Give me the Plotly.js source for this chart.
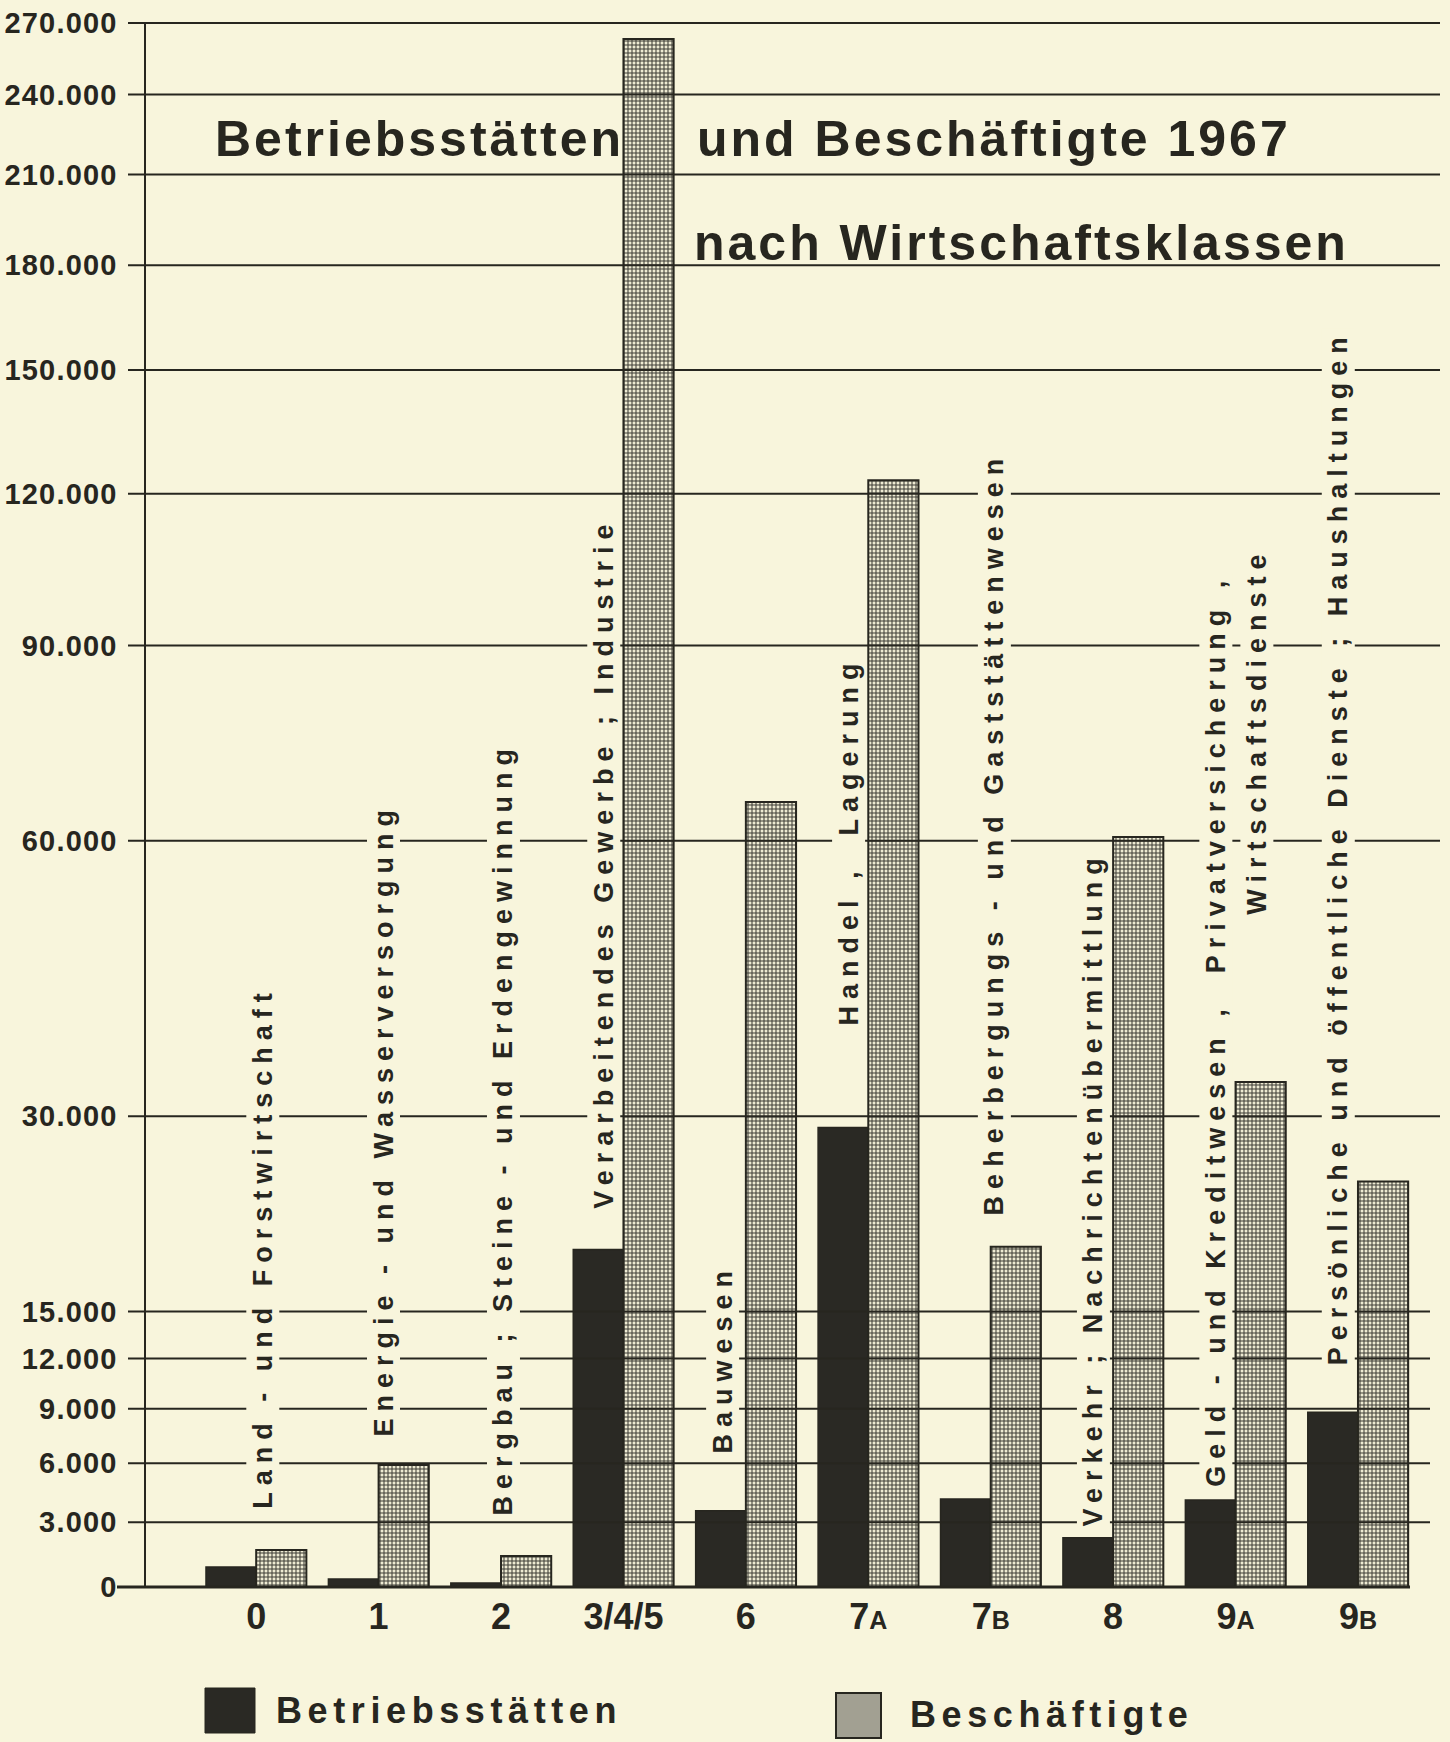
<!DOCTYPE html>
<html>
<head>
<meta charset="utf-8">
<script src="https://cdn.plot.ly/plotly-3.0.1.min.js"></script>
<style>
  html, body { margin: 0; padding: 0; background: #f8f5dc; }
  #chart { width: 1450px; height: 1742px; }
</style>
</head>
<body>
<div id="chart"></div>
<script>
// ---------------- DATA ----------------
const categories = ['0', '1', '2', '3/4/5', '6', '7A', '7B', '8', '9A', '9B'];
const categoryTickLabels = ['0', '1', '2', '3/4/5', '6', '7|A', '7|B', '8', '9|A', '9|B'];
const classNames = [
  'Land - und Forstwirtschaft',
  'Energie - und Wasserversorgung',
  'Bergbau ; Steine - und Erdengewinnung',
  'Verarbeitendes Gewerbe ; Industrie',
  'Bauwesen',
  'Handel ,  Lagerung',
  'Beherbergungs - und Gaststättenwesen',
  'Verkehr ; Nachrichtenübermittlung',
  'Geld - und Kreditwesen ,  Privatversicherung ,',
  'Persönliche und öffentliche Dienste ; Haushaltungen'
];
const classNameSecondLine = { 8: 'Wirtschaftsdienste' };
const betriebsstaetten = [900, 350, 180, 19300, 3560, 29000, 4150, 2260, 4100, 8800];
const beschaeftigte   = [1680, 5900, 1400, 263000, 65300, 123000, 19500, 60500, 33100, 24500];
const seriesNames = ['Betriebsstätten', 'Beschäftigte'];
const yTickValues = [0, 3000, 6000, 9000, 12000, 15000, 30000, 60000, 90000, 120000, 150000, 180000, 210000, 240000, 270000];
const yTickLabels = ['0', '3.000', '6.000', '9.000', '12.000', '15.000', '30.000', '60.000', '90.000', '120.000', '150.000', '180.000', '210.000', '240.000', '270.000'];
const titleParts = ['Betriebsstätten', 'und Beschäftigte 1967', 'nach Wirtschaftsklassen'];

// The original uses a compressed scale: position ~ log(value + 30.000)
const SCALE_OFFSET = 30000;
const Y_MAX = 270000;

// ---------------- STYLE / LAYOUT ----------------
const BG = '#f8f5dc';
const INK = '#27261f';
const FONT = '"Liberation Sans", Arial, Helvetica, sans-serif';
const W = 1450, H = 1742;
const M = { l: 146, r: 10, t: 23, b: 155 };
const plotW = W - M.l - M.r, plotH = H - M.t - M.b;
const px = p => (p - M.l) / plotW;          // page pixel -> paper x
const py = p => (H - M.b - p) / plotH;      // page pixel -> paper y
const ls = (t, s) => `<span style="letter-spacing:${s}px">${t}</span>`;
const yLo = Math.log10(SCALE_OFFSET), yHi = Math.log10(Y_MAX + SCALE_OFFSET);
const valueToPaper = v => (Math.log10(v + SCALE_OFFSET) - yLo) / (yHi - yLo);

// label placement (offset from category centre, bottom pixel of the rotated text)
const labelDx = [0.05, 0.04, 0.02, -0.165, -0.19, -0.165, 0.03, -0.165, -0.165, -0.165];
const labelBottom = [1511, 1439, 1517, 1211, 1456, 1028, 1217, 1528, 1489, 1367];
const secondLineDx = 0.17, secondLineBottom = 917;
const labelSize = 27, labelSpacing = 7;

const tickText = categoryTickLabels.map(t => {
  const [a, b] = t.split('|');
  return b ? `${a}<span style="font-size:25px">${b}</span>` : a;
});

const traces = [
  {
    type: 'bar', name: seriesNames[0], x: categories, y: betriebsstaetten,
    base: betriebsstaetten.map(() => SCALE_OFFSET),
    marker: { color: '#2a2924', line: { color: INK, width: 1.5 } },
    hoverinfo: 'skip'
  },
  {
    type: 'bar', name: seriesNames[1], x: categories, y: beschaeftigte,
    base: beschaeftigte.map(() => SCALE_OFFSET),
    marker: {
      color: '#eeebd3', line: { color: INK, width: 2 },
      pattern: { shape: '+', size: 4, solidity: 0.45, fgcolor: '#3e3d36', bgcolor: '#eeebd3', fillmode: 'replace' }
    },
    hoverinfo: 'skip'
  }
];

const shapes = [];
// horizontal reference lines drawn above the bars, as in the print
yTickValues.forEach(v => {
  if (v === 0) return;
  const yy = valueToPaper(v);
  shapes.push({ type: 'line', xref: 'paper', yref: 'paper', x0: px(128), x1: px(v >= 30000 ? 1440 : 1430), y0: yy, y1: yy,
    line: { color: INK, width: 2 }, layer: 'above' });
});
// baseline
shapes.push({ type: 'line', xref: 'paper', yref: 'paper', x0: px(117), x1: px(1410), y0: 0, y1: 0, line: { color: INK, width: 3 }, layer: 'above' });
// legend swatches
shapes.push({ type: 'rect', xref: 'paper', yref: 'paper', x0: px(205), x1: px(255), y0: py(1733), y1: py(1688), fillcolor: '#2a2924', line: { color: INK, width: 1 } });
shapes.push({ type: 'rect', xref: 'paper', yref: 'paper', x0: px(836), x1: px(881), y0: py(1738), y1: py(1693), fillcolor: '#a2a092', line: { color: INK, width: 2 } });

const annotations = [];
const labelFont = { family: FONT, size: labelSize, color: INK, weight: 'bold' };
classNames.forEach((name, i) => {
  annotations.push({
    x: i + labelDx[i], xref: 'x', y: py(labelBottom[i]), yref: 'paper',
    text: ls(name, labelSpacing), textangle: -90, xanchor: 'center', yanchor: 'bottom', showarrow: false,
    font: labelFont, bgcolor: BG, borderpad: 1
  });
  if (classNameSecondLine[i]) {
    annotations.push({
      x: i + secondLineDx, xref: 'x', y: py(secondLineBottom), yref: 'paper',
      text: ls(classNameSecondLine[i], labelSpacing), textangle: -90, xanchor: 'center', yanchor: 'bottom', showarrow: false,
      font: labelFont, bgcolor: BG, borderpad: 1
    });
  }
});
// title
const titleFont = { family: FONT, size: 50, color: INK, weight: 'bold' };
annotations.push({ x: px(213), y: py(139), xref: 'paper', yref: 'paper', xanchor: 'left', yanchor: 'middle', showarrow: false, text: ls(titleParts[0], 3), font: titleFont });
annotations.push({ x: px(695), y: py(139), xref: 'paper', yref: 'paper', xanchor: 'left', yanchor: 'middle', showarrow: false, text: ls(titleParts[1], 3), font: titleFont });
annotations.push({ x: px(692), y: py(243), xref: 'paper', yref: 'paper', xanchor: 'left', yanchor: 'middle', showarrow: false, text: ls(titleParts[2], 3), font: titleFont });
// legend labels
const legFont = { family: FONT, size: 36, color: INK, weight: 'bold' };
annotations.push({ x: px(274), y: py(1710), xref: 'paper', yref: 'paper', xanchor: 'left', yanchor: 'middle', showarrow: false, text: ls(seriesNames[0], 5.6), font: legFont });
annotations.push({ x: px(908), y: py(1714), xref: 'paper', yref: 'paper', xanchor: 'left', yanchor: 'middle', showarrow: false, text: ls(seriesNames[1], 5.6), font: legFont });

const layout = {
  width: W, height: H,
  margin: M,
  paper_bgcolor: BG, plot_bgcolor: BG,
  showlegend: false,
  barmode: 'group', bargap: 0.18, bargroupgap: 0,
  font: { family: FONT, color: INK },
  xaxis: {
    type: 'category', range: [-0.9, 9.67], fixedrange: true,
    showline: false, showgrid: false, zeroline: false, ticks: '',
    tickvals: categories, ticktext: tickText,
    tickfont: { family: FONT, size: 36, color: INK, weight: 'bold' },
    ticklabelstandoff: 5
  },
  yaxis: {
    type: 'log', range: [yLo, yHi], fixedrange: true,
    showline: true, linecolor: INK, linewidth: 2.5, showgrid: false, zeroline: false,
    ticks: 'outside', ticklen: 18, tickcolor: 'rgba(0,0,0,0)',
    tickvals: yTickValues.map(v => v + SCALE_OFFSET),
    ticktext: yTickLabels.map(t => ls(t, 1.2)),
    tickfont: { family: FONT, size: 29, color: INK, weight: 'bold' },
    ticklabelstandoff: 2
  },
  shapes: shapes,
  annotations: annotations
};

Plotly.newPlot('chart', traces, layout, { staticPlot: true, displayModeBar: false });
</script>
</body>
</html>
